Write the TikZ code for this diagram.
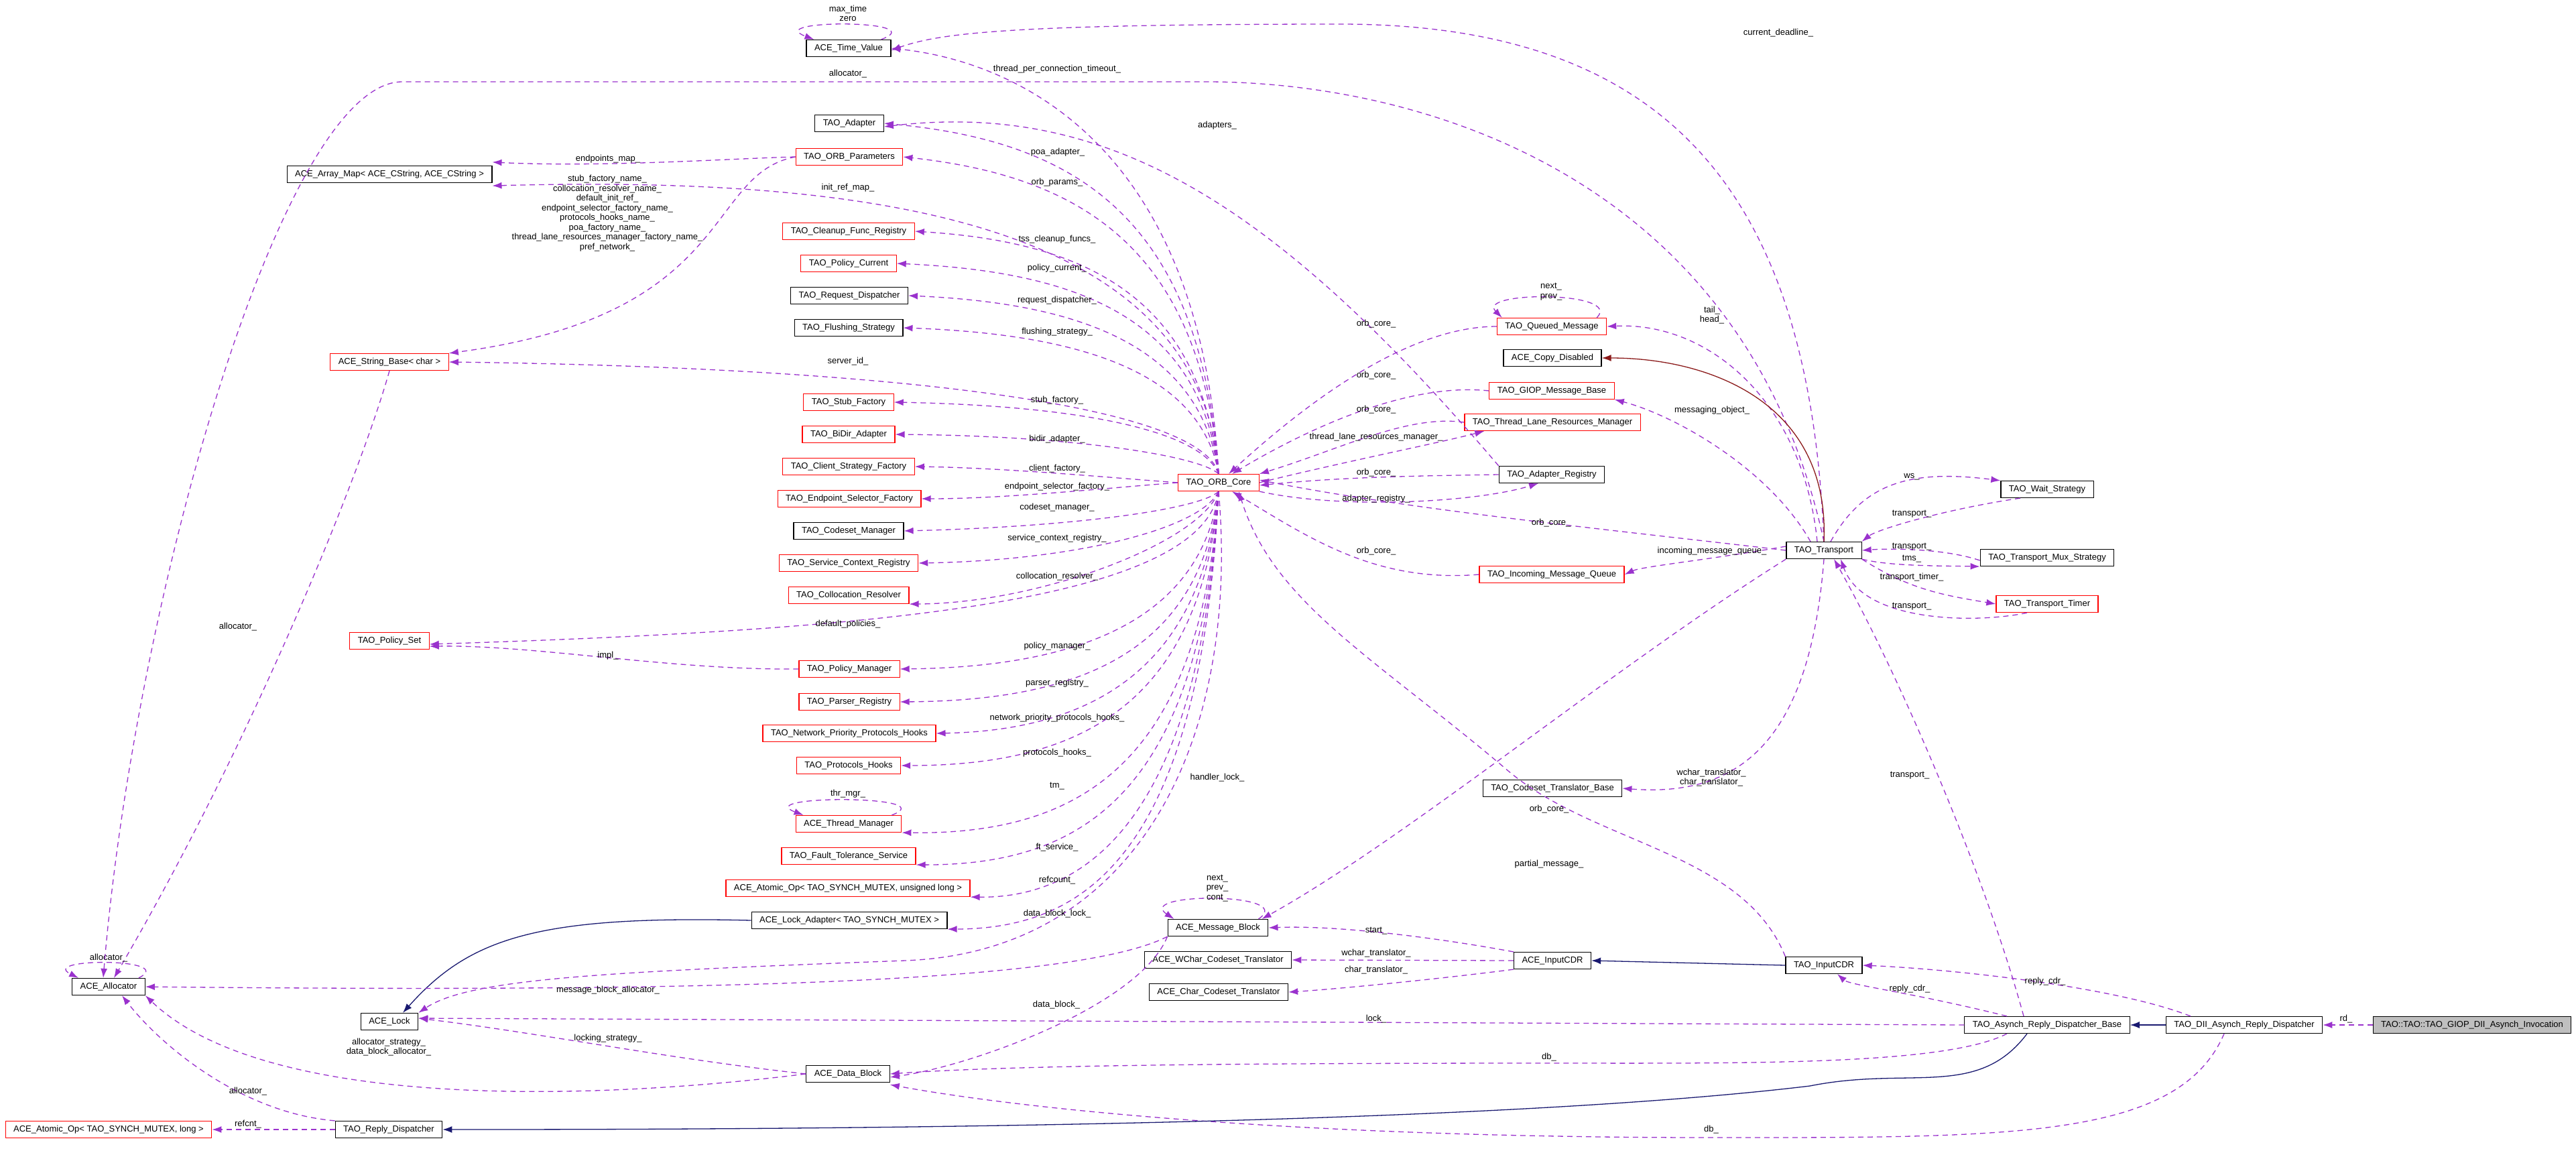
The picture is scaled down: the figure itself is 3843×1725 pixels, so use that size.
\documentclass[tikz,border=0pt]{standalone}
\usepackage{fontspec}
\setmainfont{Liberation Sans}
\usetikzlibrary{arrows.meta}
\definecolor{usec}{HTML}{9A32CD}
\definecolor{inhb}{HTML}{191970}
\definecolor{inhr}{HTML}{8B1A1A}
\newcounter{labc}
\newcommand\lab[2]{\stepcounter{labc}\node[lbl] (lab\the\value{labc}) at (#1) {#2};}
\newcommand\coreup[1]{\draw[use] (core.north) .. controls (1785,\ty{#1}+90) and (1600,\ty{#1}+12) .. (#1.east);}
\begin{document}
\begin{tikzpicture}[x=1pt,y=-1pt,
  cls/.style={draw=black,line width=1.2pt,minimum height=25pt,inner xsep=12pt,inner ysep=2pt,font=\fontsize{13}{14.5}\selectfont,fill=white},
  clsr/.style={cls,draw=red},
  lbl/.style={font=\fontsize{13}{14.5}\selectfont,align=center,inner sep=0pt},
  use/.style={draw=usec,line width=1.3pt,dash pattern=on 8pt off 6pt,-{Latex[length=14pt,width=10pt]}},
  inh/.style={draw=inhb,line width=1.3pt,-{Latex[length=14pt,width=10pt]}},
  inr/.style={draw=inhr,line width=1.3pt,-{Latex[length=14pt,width=10pt]}}]
\useasboundingbox (0,0) rectangle (3843,1725);
% ---------- nodes
\node[cls] (tv) at (1266,72) {ACE\_Time\_Value};
\node[cls] (adapter) at (1267,184) {TAO\_Adapter};
\node[clsr] (params) at (1267,234) {TAO\_ORB\_Parameters};
\node[cls] (amap) at (581,260) {ACE\_Array\_Map< ACE\_CString, ACE\_CString >};
\node[clsr] (cleanup) at (1266,345) {TAO\_Cleanup\_Func\_Registry};
\node[clsr] (pcur) at (1266,393) {TAO\_Policy\_Current};
\node[cls] (reqd) at (1267,441) {TAO\_Request\_Dispatcher};
\node[cls] (flush) at (1266,489) {TAO\_Flushing\_Strategy};
\node[clsr] (sbase) at (581,540) {ACE\_String\_Base< char >};
\node[clsr] (stub) at (1266,600) {TAO\_Stub\_Factory};
\node[clsr] (bidir) at (1266,648) {TAO\_BiDir\_Adapter};
\node[clsr] (client) at (1266,696) {TAO\_Client\_Strategy\_Factory};
\node[clsr] (core) at (1818,720) {TAO\_ORB\_Core};
\node[clsr] (endp) at (1267,744) {TAO\_Endpoint\_Selector\_Factory};
\node[cls] (codeset) at (1266,792) {TAO\_Codeset\_Manager};
\node[clsr] (scr) at (1266,840) {TAO\_Service\_Context\_Registry};
\node[clsr] (coll) at (1266,888) {TAO\_Collocation\_Resolver};
\node[clsr] (pset) at (581,956) {TAO\_Policy\_Set};
\node[clsr] (pman) at (1267,998) {TAO\_Policy\_Manager};
\node[clsr] (parser) at (1267,1047) {TAO\_Parser\_Registry};
\node[clsr] (npph) at (1267,1094) {TAO\_Network\_Priority\_Protocols\_Hooks};
\node[clsr] (phooks) at (1266,1142) {TAO\_Protocols\_Hooks};
\node[clsr] (thrm) at (1266,1229) {ACE\_Thread\_Manager};
\node[clsr] (ft) at (1266,1277) {TAO\_Fault\_Tolerance\_Service};
\node[clsr] (aoul) at (1265,1325) {ACE\_Atomic\_Op< TAO\_SYNCH\_MUTEX, unsigned long >};
\node[cls] (ladapt) at (1267,1373) {ACE\_Lock\_Adapter< TAO\_SYNCH\_MUTEX >};
\node[cls] (alloc) at (162,1472) {ACE\_Allocator};
\node[cls] (lock) at (581,1524) {ACE\_Lock};
\node[cls] (dblock) at (1265,1602) {ACE\_Data\_Block};
\node[clsr] (aol) at (162,1685) {ACE\_Atomic\_Op< TAO\_SYNCH\_MUTEX, long >};
\node[cls] (rdisp) at (580,1685) {TAO\_Reply\_Dispatcher};
\node[clsr] (qm) at (2315,487) {TAO\_Queued\_Message};
\node[cls] (cdis) at (2316,534) {ACE\_Copy\_Disabled};
\node[clsr] (giop) at (2315,583) {TAO\_GIOP\_Message\_Base};
\node[clsr] (tlrm) at (2316,630) {TAO\_Thread\_Lane\_Resources\_Manager};
\node[cls] (adreg) at (2315,708) {TAO\_Adapter\_Registry};
\node[cls] (trans) at (2721,821) {TAO\_Transport};
\node[clsr] (imq) at (2315,857) {TAO\_Incoming\_Message\_Queue};
\node[cls] (wait) at (3054,730) {TAO\_Wait\_Strategy};
\node[cls] (mux) at (3054,832) {TAO\_Transport\_Mux\_Strategy};
\node[clsr] (timer) at (3054,901) {TAO\_Transport\_Timer};
\node[cls] (ctb) at (2316,1176) {TAO\_Codeset\_Translator\_Base};
\node[cls] (mblock) at (1817,1384) {ACE\_Message\_Block};
\node[cls] (wchar) at (1817,1432) {ACE\_WChar\_Codeset\_Translator};
\node[cls] (cchar) at (1818,1480) {ACE\_Char\_Codeset\_Translator};
\node[cls] (aicdr) at (2316,1433) {ACE\_InputCDR};
\node[cls] (ticdr) at (2721,1440) {TAO\_InputCDR};
\node[cls] (arbase) at (3054,1529) {TAO\_Asynch\_Reply\_Dispatcher\_Base};
\node[cls] (dii) at (3348,1529) {TAO\_DII\_Asynch\_Reply\_Dispatcher};
\node[cls,fill=black!25] (inv) at (3688,1529) {TAO::TAO::TAO\_GIOP\_DII\_Asynch\_Invocation};
% ---------- ORB_Core edges to the left column
\draw[use] (core.north) .. controls (1790,200) and (1500,90) .. (tv.east);
\draw[use] (core.north) .. controls (1790,320) and (1600,210) .. (adapter.east);
\draw[use] (core.north) .. controls (1790,360) and (1600,262) .. (params.east);
\draw[use] (core.north) .. controls (1790,330) and (1300,262) .. ([yshift=-4pt]amap.south east);
\draw[use] (core.north) .. controls (1790,430) and (1600,360) .. (cleanup.east);
\draw[use] (core.north) .. controls (1790,470) and (1600,405) .. (pcur.east);
\draw[use] (core.north) .. controls (1790,510) and (1600,452) .. (reqd.east);
\draw[use] (core.north) .. controls (1790,550) and (1600,498) .. (flush.east);
\draw[use] (core.north) .. controls (1790,600) and (1300,548) .. (sbase.east);
\draw[use] (core.north) .. controls (1790,640) and (1600,605) .. (stub.east);
\draw[use] (core.north) .. controls (1790,680) and (1600,650) .. (bidir.east);
\draw[use] (core.west) .. controls (1650,712) and (1500,698) .. (client.east);
\draw[use] (core.west) .. controls (1650,728) and (1500,744) .. (endp.east);
\draw[use] (core.south) .. controls (1790,760) and (1600,786) .. (codeset.east);
\draw[use] (core.south) .. controls (1790,790) and (1600,836) .. (scr.east);
\draw[use] (core.south) .. controls (1790,810) and (1550,900) .. (coll.south east);
\draw[use] (core.south) .. controls (1790,900) and (1300,940) .. ([yshift=-5pt]pset.east);
\draw[use] (core.south) .. controls (1790,930) and (1600,995) .. (pman.east);
\draw[use] (core.south) .. controls (1790,980) and (1600,1045) .. (parser.east);
\draw[use] (core.south) .. controls (1790,1020) and (1600,1090) .. (npph.east);
\draw[use] (core.south) .. controls (1790,1060) and (1600,1142) .. (phooks.east);
\draw[use] (core.south) .. controls (1790,1150) and (1600,1245) .. (thrm.south east);
\draw[use] (core.south) .. controls (1790,1200) and (1600,1290) .. (ft.south east);
\draw[use] (core.south) .. controls (1790,1250) and (1600,1340) .. (aoul.south east);
\draw[use] (core.south) .. controls (1790,1300) and (1600,1385) .. (ladapt.south east);
\draw[use] (core.south) .. controls (1850,1100) and (1700,1420) .. (1350,1433) .. controls (900,1450) and (700,1460) .. (lock.north east);
% labels ORB core left
\lab{1577,103}{thread\_per\_connection\_timeout\_}
\lab{1578,227}{poa\_adapter\_}
\lab{1577,272}{orb\_params\_}
\lab{1265,280}{init\_ref\_map\_}
\lab{1577,357}{tss\_cleanup\_funcs\_}
\lab{1577,400}{policy\_current\_}
\lab{1577,448}{request\_dispatcher\_}
\lab{1577,495}{flushing\_strategy\_}
\lab{1265,539}{server\_id\_}
\lab{1577,597}{stub\_factory\_}
\lab{1577,655}{bidir\_adapter\_}
\lab{1577,699}{client\_factory\_}
\lab{1577,726}{endpoint\_selector\_factory\_}
\lab{1577,757}{codeset\_manager\_}
\lab{1577,803}{service\_context\_registry\_}
\lab{1577,860}{collocation\_resolver\_}
\lab{1265,931}{default\_policies\_}
\lab{1577,964}{policy\_manager\_}
\lab{1577,1019}{parser\_registry\_}
\lab{1577,1071}{network\_priority\_protocols\_hooks\_}
\lab{1577,1123}{protocols\_hooks\_}
\lab{1577,1173}{tm\_}
\lab{1577,1264}{ft\_service\_}
\lab{1577,1313}{refcount\_}
\lab{1577,1363}{data\_block\_lock\_}
\lab{1816,1160}{handler\_lock\_}
% ---------- left side edges
\draw[use] (params.west) .. controls (1100,236) and (900,250) .. ([yshift=5pt]amap.north east);
\lab{907,237}{endpoints\_map\_}
\draw[use] (params.west) .. controls (1050,260) and (1100,470) .. (sbase.north east);
\lab{906,318}{stub\_factory\_name\_\\collocation\_resolver\_name\_\\default\_init\_ref\_\\endpoint\_selector\_factory\_name\_\\protocols\_hooks\_name\_\\poa\_factory\_name\_\\thread\_lane\_resources\_manager\_factory\_name\_\\pref\_network\_}
\draw[use] (sbase.south) .. controls (540,700) and (380,1100) .. ([xshift=8pt]alloc.north);
\lab{355,935}{allocator\_}
\draw[use] (pman.west) .. controls (1000,1000) and (800,962) .. ([yshift=5pt]pset.south east);
\lab{907,978}{impl\_}
\draw[use] ([xshift=-15pt]tv.north east) .. controls +(80,-30) and +(-80,-30) .. ([xshift=12pt]tv.north west);
\lab{1265,20}{max\_time\\zero}
\draw[use] ([xshift=-15pt]thrm.north east) .. controls +(80,-30) and +(-80,-30) .. ([xshift=12pt]thrm.north west);
\lab{1265,1184}{thr\_mgr\_}
\draw[use] ([xshift=-10pt]alloc.north east) .. controls +(60,-30) and +(-60,-30) .. ([xshift=10pt]alloc.north west);
\lab{162,1429}{allocator\_}
\draw[inh] (ladapt.west) .. controls (800,1365) and (700,1400) .. ([xshift=20pt]lock.north);
\draw[use] (dblock.west) .. controls (900,1640) and (400,1660) .. (alloc.south east);
\lab{580,1562}{allocator\_strategy\_\\data\_block\_allocator\_}
\draw[use] (dblock.west) .. controls (1000,1580) and (800,1540) .. ([yshift=5pt]lock.east);
\lab{907,1549}{locking\_strategy\_}
\draw[use] (rdisp.north west) .. controls (360,1660) and (240,1560) .. ([xshift=20pt]alloc.south);
\lab{370,1628}{allocator\_}
\draw[use] (rdisp.west) -- (aol.east);
\lab{370,1677}{refcnt\_}
\draw[use] (mblock.south west) .. controls (1600,1470) and (1000,1480) .. (alloc.east);
\lab{907,1477}{message\_block\_allocator\_}
\draw[use] (mblock.south west) .. controls (1700,1500) and (1450,1590) .. ([yshift=-5pt]dblock.east);
\lab{1576,1499}{data\_block\_}
\draw[use] ([xshift=-15pt]mblock.north east) .. controls +(60,-40) and +(-60,-40) .. ([xshift=10pt]mblock.north west);
\lab{1816,1325}{next\_\\prev\_\\cont\_}
% ---------- Transport and right side
\draw[use] (trans.north) .. controls (2600,250) and (2100,122) .. (1800,122) -- (600,122) .. controls (420,122) and (200,900) .. ([xshift=-8pt]alloc.north);
\lab{1265,110}{allocator\_}
\draw[use] (trans.north) .. controls (2700,300) and (2500,36) .. (2000,36) .. controls (1500,36) and (1400,50) .. ([yshift=-3pt]tv.east);
\lab{2653,49}{current\_deadline\_}
\draw[use] (adreg.north west) .. controls (1900,300) and (1650,150) .. ([yshift=-5pt]adapter.east);
\lab{1816,187}{adapters\_}
\draw[use] (qm.west) .. controls (2100,487) and (1950,600) .. ([xshift=15pt]core.north);
\lab{2053,483}{orb\_core\_}
\draw[use] (giop.west) .. controls (2100,570) and (1950,640) .. ([xshift=20pt]core.north);
\lab{2053,560}{orb\_core\_}
\draw[use] (tlrm.west) .. controls (2100,618) and (2000,670) .. (core.north east);
\lab{2053,611}{orb\_core\_}
\draw[use] (core.east) .. controls (2000,690) and (2150,660) .. ([xshift=30pt]tlrm.south west);
\lab{2053,652}{thread\_lane\_resources\_manager\_}
\draw[use] (adreg.west) .. controls (2100,710) and (2000,712) .. ([yshift=-4pt]core.east);
\lab{2053,705}{orb\_core\_}
\draw[use] (core.south east) .. controls (2000,760) and (2200,750) .. ([xshift=-20pt]adreg.south);
\lab{2053,744}{adapter\_registry\_}
\draw[use] (trans.west) .. controls (2400,790) and (2100,760) .. ([yshift=4pt]core.east);
\lab{2314,780}{orb\_core\_}
\draw[use] ([yshift=6pt]trans.west) .. controls (2550,835) and (2450,845) .. (imq.east);
\lab{2554,822}{incoming\_message\_queue\_}
\draw[use] (imq.west) .. controls (2050,870) and (1950,800) .. ([xshift=20pt]core.south);
\lab{2053,822}{orb\_core\_}
\draw[use] ([xshift=-15pt]qm.north east) .. controls +(40,-40) and +(-40,-40) .. ([xshift=8pt]qm.north west);
\lab{2314,435}{next\_\\prev\_}
\draw[use] ([xshift=-10pt]trans.north) .. controls (2690,600) and (2550,480) .. (qm.east);
\lab{2554,470}{tail\_\\head\_}
\draw[inr] (trans.north) .. controls (2730,600) and (2550,534) .. (cdis.east);
\draw[use] ([xshift=-20pt]trans.north) .. controls (2640,700) and (2500,620) .. (giop.south east);
\lab{2554,612}{messaging\_object\_}
\draw[use] ([xshift=10pt]trans.north) .. controls (2780,720) and (2850,700) .. (wait.north west);
\lab{2852,711}{ws\_}
\draw[use] ([xshift=-40pt]wait.south) .. controls (2900,760) and (2800,790) .. (trans.north east);
\lab{2852,767}{transport\_}
\draw[use] ([yshift=-4pt]mux.west) .. controls (2900,818) and (2820,818) .. (trans.east);
\lab{2852,816}{transport\_}
\draw[use] (trans.south east) .. controls (2820,845) and (2900,844) .. (mux.south west);
\lab{2852,834}{tms\_}
\draw[use] (trans.south east) .. controls (2850,880) and (2900,888) .. (timer.west);
\lab{2852,861}{transport\_timer\_}
\draw[use] ([xshift=-30pt]timer.south) .. controls (2950,930) and (2780,930) .. ([xshift=25pt]trans.south);
\lab{2852,905}{transport\_}
\draw[use] (trans.south) .. controls (2700,1100) and (2600,1190) .. (ctb.east);
\lab{2553,1160}{wchar\_translator\_\\char\_translator\_}
\draw[use] (trans.south west) .. controls (2400,1000) and (2100,1250) .. ([xshift=-10pt]mblock.north east);
\lab{2311,1289}{partial\_message\_}
\draw[use] (ticdr.north west) .. controls (2600,1270) and (2380,1260) .. (2250,1150) .. controls (2050,980) and (1900,900) .. ([xshift=30pt]core.south);
\lab{2311,1207}{orb\_core\_}
\draw[use] (aicdr.north west) .. controls (2150,1400) and (2000,1380) .. (mblock.east);
\lab{2053,1389}{start\_}
\draw[use] (aicdr.west) -- (wchar.east);
\lab{2053,1422}{wchar\_translator\_}
\draw[use] (aicdr.south west) .. controls (2150,1460) and (2000,1475) .. (cchar.east);
\lab{2053,1447}{char\_translator\_}
\draw[inh] (ticdr.west) -- (aicdr.east);
\draw[use] ([xshift=-60pt]arbase.north) .. controls (2850,1480) and (2760,1470) .. ([xshift=20pt]ticdr.south);
\lab{2849,1475}{reply\_cdr\_}
\draw[use] ([xshift=-80pt]dii.north) .. controls (3150,1470) and (2900,1445) .. (ticdr.east);
\lab{3051,1464}{reply\_cdr\_}
\draw[use] ([xshift=-35pt]arbase.north) .. controls (2960,1300) and (2830,1000) .. ([xshift=15pt]trans.south);
\lab{2849,1157}{transport\_}
\draw[use] (arbase.west) -- ([yshift=5pt]lock.east);
\lab{2053,1520}{lock\_}
\draw[use] ([xshift=-60pt]arbase.south) .. controls (2900,1590) and (2600,1586) .. (2300,1586) .. controls (1800,1586) and (1500,1590) .. (dblock.east);
\lab{2311,1577}{db\_}
\draw[use] ([xshift=-30pt]dii.south) .. controls (3250,1700) and (3000,1697) .. (2553,1697) .. controls (1900,1697) and (1500,1650) .. ([yshift=-3pt]dblock.south east);
\lab{2553,1685}{db\_}
\draw[inh] ([xshift=-30pt]arbase.south) .. controls (2950,1640) and (2850,1590) .. (2700,1620) .. controls (2200,1680) and (1200,1685) .. (rdisp.east);
\draw[inh] (dii.west) -- (arbase.east);
\draw[use] (inv.west) -- (dii.east);
\lab{3500,1520}{rd\_}
\end{tikzpicture}
\end{document}
